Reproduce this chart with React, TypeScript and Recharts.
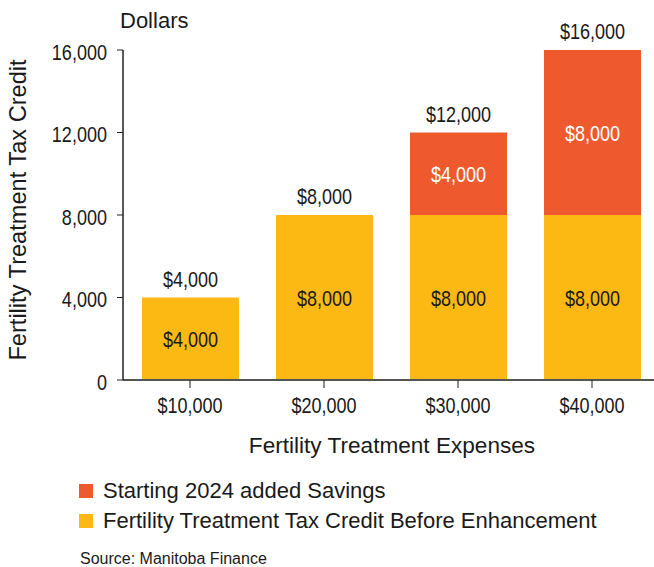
import React from 'react';
import { BarChart, Bar, XAxis, YAxis, LabelList, Label } from 'recharts';

const categories = ['$10,000', '$20,000', '$30,000', '$40,000'];
const baseCredit = [4000, 8000, 8000, 8000];
const addedSavings = [0, 0, 4000, 8000];
const yTicks = [0, 4000, 8000, 12000, 16000];

const YELLOW = '#FDB913';
const ORANGE = '#EE5A2D';
const SANS = '"Liberation Sans", Arial, sans-serif';
const SQUEEZE = 0.82;

const data = categories.map((c, i) => ({
  category: c,
  base: baseCredit[i],
  added: addedSavings[i],
  total: baseCredit[i] + addedSavings[i],
}));

const fmtDollar = (v: number) => '$' + Number(v).toLocaleString('en-US');
const fmtNum = (v: number) => Number(v).toLocaleString('en-US');

const NarrowText = ({ x, y, anchor, color, children }: any) => (
  <text
    transform={`translate(${x}, ${y}) scale(${SQUEEZE}, 1)`}
    textAnchor={anchor}
    fill={color}
    fontFamily={SANS}
    fontSize={22}
  >
    {children}
  </text>
);

const InnerLabel = (color: string) => (props: any) => {
  const { x, y, width, height, value } = props;
  if (!value) return null;
  return (
    <NarrowText x={x + width / 2} y={y + height / 2 + 8} anchor="middle" color={color}>
      {fmtDollar(value)}
    </NarrowText>
  );
};

const TotalLabel = (props: any) => {
  const { x, y, width, value } = props;
  return (
    <NarrowText x={x + width / 2} y={y - 11} anchor="middle" color="#1a1a1a">
      {fmtDollar(value)}
    </NarrowText>
  );
};

const XTick = (props: any) => {
  const { x, y, payload } = props;
  return (
    <NarrowText x={x} y={y + 21} anchor="middle" color="#1a1a1a">
      {payload.value}
    </NarrowText>
  );
};

const YTick = (props: any) => {
  const { x, y, payload } = props;
  return (
    <NarrowText x={x} y={y + 9.5} anchor="end" color="#1a1a1a">
      {fmtNum(payload.value)}
    </NarrowText>
  );
};

const legendItems = [
  { label: 'Starting 2024 added Savings', color: ORANGE },
  { label: 'Fertility Treatment Tax Credit Before Enhancement', color: YELLOW },
];

export default function App() {
  return (
    <div style={{ position: 'absolute', left: 0, top: 0, width: 654, height: 567, overflow: 'hidden', background: '#fff' }}>
      <BarChart
        width={660}
        height={567}
        data={data}
        margin={{ top: 50, right: 1, left: 0, bottom: 0 }}
        barSize={97}
      >
        <XAxis
          dataKey="category"
          height={187}
          tickLine={{ stroke: '#222' }}
          tickSize={8}
          tickMargin={4}
          axisLine={{ stroke: '#555', strokeWidth: 2 }}
          tick={<XTick />}
        >
          <Label
            content={(p: any) => {
              const vb = p.viewBox;
              return (
                <text x={vb.x + vb.width / 2 + 1} y={vb.y + 73} textAnchor="middle" fill="#1a1a1a" fontFamily={SANS} fontSize={22.6}>
                  Fertility Treatment Expenses
                </text>
              );
            }}
          />
        </XAxis>
        <XAxis xAxisId="total" dataKey="category" hide />
        <YAxis
          width={123}
          domain={[0, 16000]}
          ticks={yTicks}
          interval={0}
          tickSize={6}
          tickMargin={10}
          tickLine={{ stroke: '#222' }}
          axisLine={{ stroke: '#222', strokeWidth: 1.5 }}
          tick={<YTick />}
        >
          <Label
            content={(p: any) => {
              const vb = p.viewBox;
              return (
                <g>
                  <text
                    transform="translate(26, 210) rotate(-90)"
                    textAnchor="middle"
                    fill="#1a1a1a"
                    fontFamily={SANS}
                    fontSize={23.6}
                  >
                    Fertility Treatment Tax Credit
                  </text>
                  <text x={vb.x + vb.width - 3} y={28} fill="#1a1a1a" fontFamily={SANS} fontSize={22}>
                    Dollars
                  </text>
                </g>
              );
            }}
          />
        </YAxis>
        <Bar dataKey="base" stackId="a" fill={YELLOW} isAnimationActive={false}>
          <LabelList dataKey="base" content={InnerLabel('#1a1a1a')} />
        </Bar>
        <Bar dataKey="added" stackId="a" fill={ORANGE} isAnimationActive={false}>
          <LabelList dataKey="added" content={InnerLabel('#ffffff')} />
        </Bar>
        <Bar xAxisId="total" dataKey="total" fill="transparent" isAnimationActive={false} legendType="none">
          <LabelList dataKey="total" content={TotalLabel} />
        </Bar>
      </BarChart>
      <div style={{ position: 'absolute', left: 79, top: 476, fontFamily: SANS, fontSize: 22, color: '#1a1a1a' }}>
        {legendItems.map((it) => (
          <div key={it.label} style={{ display: 'flex', alignItems: 'center', height: 30 }}>
            <span style={{ display: 'inline-block', width: 14, height: 14, background: it.color, marginRight: 10 }} />
            <span>{it.label}</span>
          </div>
        ))}
      </div>
      <div style={{ position: 'absolute', left: 80, top: 551, fontFamily: SANS, fontSize: 16, lineHeight: '16px', color: '#1a1a1a' }}>
        Source: Manitoba Finance
      </div>
    </div>
  );
}
